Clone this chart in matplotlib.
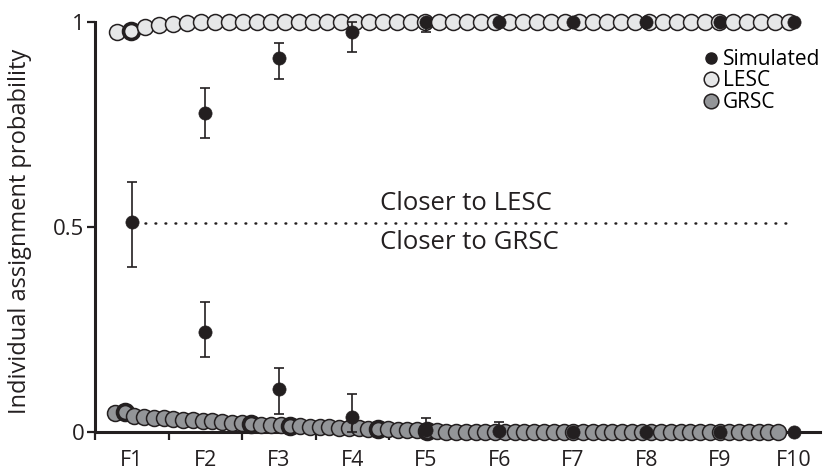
import numpy as np
import matplotlib
matplotlib.use("Agg")
import matplotlib.pyplot as plt
from matplotlib.lines import Line2D

plt.rcParams['font.family'] = ['Open Sans', 'DejaVu Sans']

# ---------------- data ----------------
generations = ["F1", "F2", "F3", "F4", "F5", "F6", "F7", "F8", "F9", "F10"]

sim_upper = [0.512, 0.779, 0.911, 0.975, 1.0, 1.0, 1.0, 1.0, 1.0, 1.0]
sim_upper_low = [0.402, 0.717, 0.861, 0.928, 0.975, 1.0, 1.0, 1.0, 1.0, 1.0]
sim_upper_high = [0.610, 0.838, 0.948, 1.0, 1.0, 1.0, 1.0, 1.0, 1.0, 1.0]

sim_lower = [np.nan, 0.243, 0.105, 0.037, 0.005, 0.003, 0.0, 0.0, 0.0, 0.0]
sim_lower_low = [np.nan, 0.184, 0.044, 0.0, 0.0, 0.0, 0.0, 0.0, 0.0, 0.0]
sim_lower_high = [np.nan, 0.316, 0.157, 0.093, 0.034, 0.025, 0.0, 0.0, 0.0, 0.0]

lesc_values = [0.976, 0.979, 0.989, 0.993, 0.996, 0.998, 0.999, 1.0, 1.0, 1.0,
               1.0, 1.0, 1.0, 1.0, 1.0, 1.0, 1.0, 1.0, 1.0, 1.0,
               1.0, 1.0, 1.0, 1.0, 1.0, 1.0, 1.0, 1.0, 1.0, 1.0,
               1.0, 1.0, 1.0, 1.0, 1.0, 1.0, 1.0, 1.0, 1.0, 1.0,
               1.0, 1.0, 1.0, 1.0, 1.0, 1.0, 1.0, 1.0, 1.0]
lesc_heavy = [1]

grsc_values = [0.046, 0.050, 0.038, 0.036, 0.034, 0.033, 0.031, 0.030, 0.029, 0.027,
               0.026, 0.024, 0.022, 0.021, 0.020, 0.018, 0.017, 0.016, 0.015, 0.014,
               0.013, 0.012, 0.011, 0.010, 0.010, 0.009, 0.008, 0.008, 0.007, 0.006,
               0.005, 0.004, 0.003, 0.002, 0.001, 0.0, 0.0, 0.0, 0.0, 0.0,
               0.0, 0.0, 0.0, 0.0, 0.0, 0.0, 0.0, 0.0, 0.0, 0.0,
               0.0, 0.0, 0.0, 0.0, 0.0, 0.0, 0.0, 0.0, 0.0, 0.0,
               0.0, 0.0, 0.0, 0.0, 0.0, 0.0, 0.0, 0.0, 0.0]
grsc_heavy = [1, 14, 18, 27, 32]

threshold = 0.51

# ---------------- style ----------------
INK = '#231f20'
LESC_FACE = '#e6e7e8'
GRSC_FACE = '#939598'
CIRCLE_S = 132
DOT_S = 90

fig = plt.figure(figsize=(8.25, 4.71), dpi=100)
W, H = 825, 471
ax = fig.add_axes([95 / W, 1 - 432 / H, (820 - 95) / W, (432 - 22) / H])
ax.set_xlim(0.5, 10.36)
ax.set_ylim(0, 1)

gen_x = np.arange(1, len(generations) + 1)
lesc_x = np.linspace(0.80, 9.94, len(lesc_values))
grsc_x = np.linspace(0.77, 9.79, len(grsc_values))


def z_of(x):
    return 3 + x * 0.01


# circles
for i, (x, y) in enumerate(zip(lesc_x, lesc_values)):
    ax.scatter([x], [y], s=CIRCLE_S, facecolor=LESC_FACE, edgecolor=INK,
               linewidth=2.6 if i in lesc_heavy else 1.1, zorder=z_of(x), clip_on=False)
for i, (x, y) in enumerate(zip(grsc_x, grsc_values)):
    ax.scatter([x], [y], s=CIRCLE_S, facecolor=GRSC_FACE, edgecolor=INK,
               linewidth=2.6 if i in grsc_heavy else 1.1, zorder=z_of(x), clip_on=False)

# simulated points with error bars
for vals, lo, hi in [(sim_upper, sim_upper_low, sim_upper_high),
                     (sim_lower, sim_lower_low, sim_lower_high)]:
    for x, v, l, h in zip(gen_x, vals, lo, hi):
        if np.isnan(v):
            continue
        z = z_of(x) + 0.001
        ax.errorbar([x], [v], yerr=[[v - l], [h - v]], fmt='none', ecolor=INK,
                    elinewidth=1.2, capsize=3.8, capthick=1.2, zorder=z, clip_on=False)
        ax.scatter([x], [v], s=DOT_S, facecolor=INK, edgecolor=INK, linewidth=0.5,
                   zorder=z + 0.0005, clip_on=False)

# threshold line and annotations
ax.plot([1.18, 9.96], [threshold, threshold], color=INK, lw=1.8,
        linestyle=(0, (0.3, 3.7)), dash_capstyle='round', zorder=2)
ax.text(4.38, 0.558, "Closer to LESC", fontsize=18.5, color=INK, ha='left', va='center')
ax.text(4.38, 0.462, "Closer to GRSC", fontsize=18.5, color=INK, ha='left', va='center')

# axes styling
for s in ['top', 'right']:
    ax.spines[s].set_visible(False)
for s in ['left', 'bottom']:
    ax.spines[s].set_linewidth(2.2)
    ax.spines[s].set_color(INK)

ax.set_yticks([0, 0.5, 1])
ax.set_yticklabels(["0", "0.5", "1"])
ax.tick_params(axis='y', direction='out', length=5.5, width=1.6, colors=INK,
               labelsize=16, pad=2)
ax.set_xticks(np.arange(0.5, 10, 1.0))
ax.set_xticklabels([])
ax.set_xticks(gen_x, minor=True)
ax.set_xticklabels(generations, minor=True)
ax.tick_params(axis='x', which='major', direction='out', length=5.5, width=1.6, colors=INK)
ax.tick_params(axis='x', which='minor', length=0, labelsize=15.5, pad=13, colors=INK)

ax.set_ylabel("Individual assignment probability", fontsize=17, color=INK)
ax.yaxis.set_label_coords(-0.087, 0.49)

handles = [
    Line2D([], [], linestyle='none', marker='o', markersize=8, markerfacecolor=INK,
           markeredgecolor=INK),
    Line2D([], [], linestyle='none', marker='o', markersize=10.5, markerfacecolor=LESC_FACE,
           markeredgecolor=INK, markeredgewidth=1.1),
    Line2D([], [], linestyle='none', marker='o', markersize=10.5, markerfacecolor=GRSC_FACE,
           markeredgecolor=INK, markeredgewidth=1.1),
]
ax.legend(handles, ["Simulated", "LESC", "GRSC"], loc='upper left',
          bbox_to_anchor=(703 / W, 1 - 49 / H), bbox_transform=fig.transFigure,
          frameon=False, handlelength=0.8, handletextpad=0.15, labelspacing=0.02,
          borderpad=0, borderaxespad=0, fontsize=15)

fig.savefig("out.png", dpi=100)
